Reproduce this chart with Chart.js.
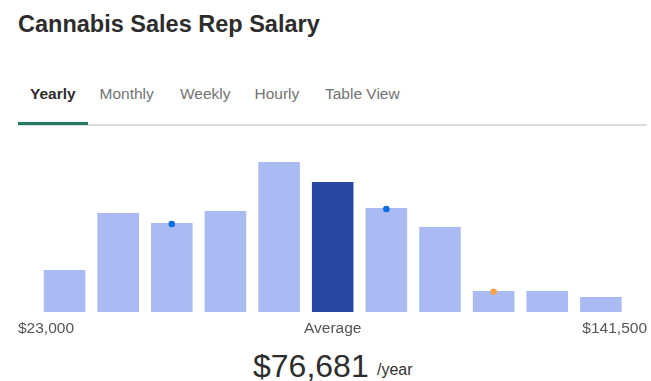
<!DOCTYPE html>
<html>
<head>
<meta charset="utf-8">
<script src="https://cdn.jsdelivr.net/npm/chart.js@4/dist/chart.umd.min.js"></script>
<style>
  html, body { margin: 0; padding: 0; background: #fff; }
  body { width: 651px; height: 381px; position: relative; overflow: hidden; font-family: "Liberation Sans", Arial, sans-serif; }
  .abs { position: absolute; white-space: nowrap; }
  #title { left: 18px; top: 12px; font-size: 23.5px; line-height: 24px; font-weight: bold; color: #2d2d2d; }
  .tab { top: 86px; font-size: 15.5px; line-height: 16px; color: #737373; }
  .tab.active { color: #2d2d2d; font-weight: bold; }
  #underline { left: 18px; top: 122px; width: 70px; height: 3px; background: #237b63; }
  #rule { left: 18px; top: 124px; width: 629px; height: 1.5px; background: #dcdcdc; }
  #chartBox { left: 18px; top: 140px; width: 629px; height: 200px; }
  #avg { left: 253px; top: 350px; font-size: 32px; line-height: 32px; color: #2d2d2d; }
  #unit { left: 377px; top: 362px; font-size: 16px; line-height: 16px; color: #333; }
</style>
</head>
<body>
<div id="title" class="abs">Cannabis Sales Rep Salary</div>
<div class="abs tab active" style="left:30px">Yearly</div>
<div class="abs tab" style="left:99.5px">Monthly</div>
<div class="abs tab" style="left:180px">Weekly</div>
<div class="abs tab" style="left:254.5px">Hourly</div>
<div class="abs tab" style="left:325px">Table View</div>
<div id="rule" class="abs"></div>
<div id="underline" class="abs"></div>
<div id="chartBox" class="abs"><canvas id="c" width="629" height="200"></canvas></div>
<div id="avg" class="abs">$76,681</div>
<div id="unit" class="abs">/year</div>
<script>
// ---- data ----
const categories = ['Bin 1','Bin 2','Bin 3','Bin 4','Bin 5','Bin 6','Bin 7','Bin 8','Bin 9','Bin 10','Bin 11'];
const barValues = [42, 99, 89, 101, 150, 130, 104, 85, 21, 21, 15];
const markerValues = [null, null, 88, null, null, null, 103, null, 20.3, null, null];
const markerColors = ['#0b6fde', '#0b6fde', '#0b6fde', '#0b6fde', '#0b6fde', '#0b6fde', '#0b6fde', '#0b6fde', '#f7a54e', '#0b6fde', '#0b6fde'];
const highlightIndex = 5;
const tickLabels = ['$23,000', 'Average', '$141,500'];
const yMax = 160;

const lightBar = '#a9bbf2';
const darkBar = '#2749a3';
const barColors = barValues.map((v, i) => i === highlightIndex ? darkBar : lightBar);

const labelPlugin = {
  id: 'rangeLabels',
  afterDraw(chart) {
    const ctx = chart.ctx;
    const x = chart.scales.x;
    const y = chart.chartArea.bottom + 20.7;
    ctx.save();
    ctx.font = '15.5px "Liberation Sans", Arial, sans-serif';
    ctx.fillStyle = '#555555';
    ctx.textBaseline = 'alphabetic';
    ctx.textAlign = 'left';
    ctx.fillText(tickLabels[0], 0, y);
    ctx.textAlign = 'center';
    ctx.fillText(tickLabels[1], x.getPixelForValue(highlightIndex), y);
    ctx.textAlign = 'right';
    ctx.fillText(tickLabels[2], chart.width, y);
    ctx.restore();
  }
};

new Chart(document.getElementById('c'), {
  type: 'bar',
  data: {
    labels: categories,
    datasets: [
      {
        type: 'line',
        data: markerValues,
        showLine: false,
        pointRadius: 3.3,
        pointBorderWidth: 0,
        pointBackgroundColor: markerColors,
        pointBorderColor: markerColors,
        order: 0
      },
      {
        type: 'bar',
        data: barValues,
        backgroundColor: barColors,
        borderWidth: 0,
        barPercentage: 0.775,
        categoryPercentage: 1,
        order: 1
      }
    ]
  },
  options: {
    responsive: false,
    animation: false,
    layout: { padding: { left: 19.7, right: 19.3, top: 12, bottom: 28 } },
    plugins: { legend: { display: false }, tooltip: { enabled: false } },
    scales: {
      x: { display: false, offset: true },
      y: { display: false, min: 0, max: yMax }
    }
  },
  plugins: [labelPlugin]
});
</script>
</body>
</html>
